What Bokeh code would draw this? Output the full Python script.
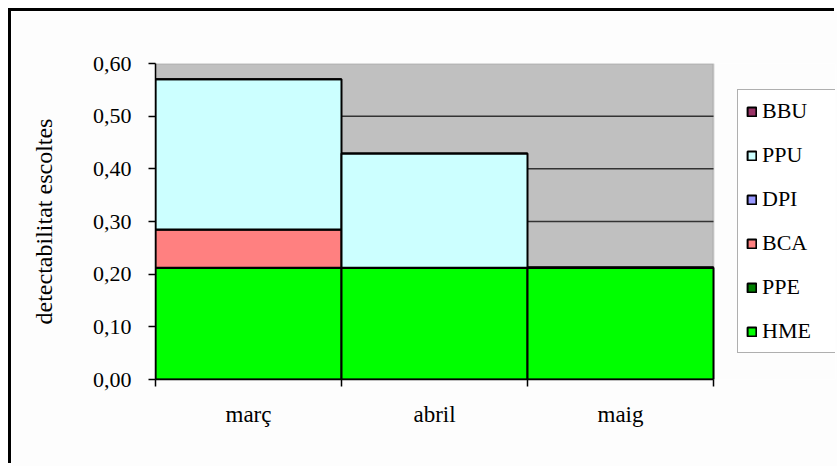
from bokeh.plotting import figure
from bokeh.models import (ColumnDataSource, Range1d, FixedTicker, CustomJSTickFormatter,
                          Legend, LegendItem, BoxAnnotation)
from bokeh.embed import file_html
from bokeh.resources import INLINE

# ---- data ----
categories = ["març", "abril", "maig"]
series = ["HME", "PPE", "BCA", "DPI", "PPU", "BBU"]
HME = [0.212, 0.212, 0.212]
PPE = [0.0, 0.0, 0.0]
BCA = [0.073, 0.0, 0.0]
DPI = [0.0, 0.0, 0.0]
PPU = [0.285, 0.217, 0.0]
BBU = [0.0, 0.0, 0.0]
colors = ["#00FF00", "#008000", "#FF8080", "#9999FF", "#CCFFFF", "#993366"]
y_ticks = [0.0, 0.1, 0.2, 0.3, 0.4, 0.5, 0.6]

FONT = "Liberation Serif"
N = len(categories)
Y_MAX = y_ticks[-1]

data = {"x": [i + 0.5 for i in range(N)],
        "HME": HME, "PPE": PPE, "BCA": BCA, "DPI": DPI, "PPU": PPU, "BBU": BBU}
src = ColumnDataSource(data)

# plot frame also hosts the legend area to the right of the category area
FRAME_W = 680          # px, whole frame incl. legend area
DATA_W = 558           # px used by the three categories
x_end = N * FRAME_W / DATA_W

p = figure(width=826, height=455, output_backend="svg", toolbar_location=None,
           x_range=Range1d(0, x_end), y_range=Range1d(0, Y_MAX),
           min_border_left=144, min_border_right=2, min_border_top=52, min_border_bottom=87)
p.margin = (11, 0, 0, 11)
p.styles = {"box-shadow": "-3px -3px 0px 0px black"}
p.background_fill_color = "#FDFDFD"
p.border_fill_color = "#FDFDFD"
p.outline_line_color = None

# grey plot area
plot_area = BoxAnnotation(left=0, right=N, bottom=0, top=Y_MAX, level="image",
                          fill_color="#C0C0C0", fill_alpha=1,
                          line_color="#808080", line_width=2)
p.add_layout(plot_area)

# horizontal gridlines limited to the category area
p.segment(x0=[0] * (len(y_ticks) - 2), x1=[N] * (len(y_ticks) - 2),
          y0=y_ticks[1:-1], y1=y_ticks[1:-1], line_color="#333333",
          line_width=1.5, level="underlay")

renderers = p.vbar_stack(series, x="x", width=1.0, source=src, fill_color=colors,
                         line_color="black", line_width=2)

# y axis
p.yaxis.ticker = FixedTicker(ticks=y_ticks)
p.yaxis.formatter = CustomJSTickFormatter(code="return tick.toFixed(2).replace('.', ',');")
p.yaxis.axis_label = "detectabilitat escoltes"
p.yaxis.axis_label_text_font = FONT
p.yaxis.axis_label_text_font_style = "normal"
p.yaxis.axis_label_text_font_size = "24px"
p.yaxis.axis_label_text_color = "black"
p.yaxis.axis_label_standoff = 33
p.yaxis.major_label_text_font = FONT
p.yaxis.major_label_text_font_size = "22px"
p.yaxis.major_label_text_color = "black"
p.yaxis.major_label_standoff = 17
p.yaxis.major_tick_out = 7
p.yaxis.major_tick_in = 0
p.yaxis.minor_tick_out = 0
p.yaxis.minor_tick_in = 0
p.yaxis.axis_line_color = "black"
p.yaxis.axis_line_width = 1.5
p.yaxis.major_tick_line_width = 1.5

# x axis
p.xaxis.bounds = (0, N)
p.xaxis.ticker = FixedTicker(ticks=[i + 0.5 for i in range(N)],
                             minor_ticks=list(range(N + 1)))
p.xaxis.formatter = CustomJSTickFormatter(args=dict(cats=categories),
                                          code="return cats[Math.floor(tick)];")
p.xaxis.major_label_text_font = FONT
p.xaxis.major_label_text_font_size = "23px"
p.xaxis.major_label_text_color = "black"
p.xaxis.major_label_standoff = 15
p.xaxis.major_tick_out = 0
p.xaxis.major_tick_in = 0
p.xaxis.minor_tick_out = 7
p.xaxis.minor_tick_in = 0
p.xaxis.minor_tick_line_color = "black"
p.xaxis.minor_tick_line_width = 1.5
p.xaxis.axis_line_color = "black"
p.xaxis.axis_line_width = 1.5

# grid (drawn by the segments above)
p.xgrid.grid_line_color = None
p.ygrid.grid_line_color = None

# legend
items = [LegendItem(label=s, renderers=[r]) for s, r in zip(series, renderers)][::-1]
legend = Legend(items=items, location=(582, 26), margin=0, padding=8, spacing=18,
                label_height=22, glyph_height=11, glyph_width=11, label_standoff=5,
                label_width=65, label_text_font=FONT, label_text_font_size="22px",
                label_text_color="black",
                border_line_color="#606060", border_line_width=1.5,
                background_fill_color="white", background_fill_alpha=1)
p.add_layout(legend, "center")

open("out.html", "w").write(file_html(p, INLINE))
